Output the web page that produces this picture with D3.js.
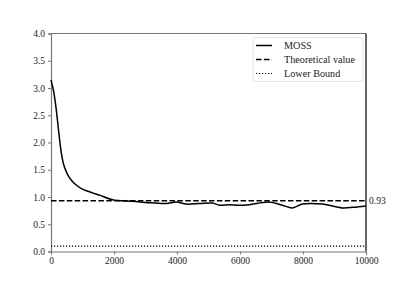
<!DOCTYPE html>
<html>
<head>
<meta charset="utf-8">
<script src="https://cdn.jsdelivr.net/npm/d3@7"></script>
<style>
  body { margin: 0; background: #fff; }
  text { font-family: "Liberation Serif", "DejaVu Serif", serif; }
</style>
</head>
<body>
<div id="chart"></div>
<script>
// MOSS curve
const steps = [0, 80, 170, 240, 325, 400, 480, 560, 660, 800, 980, 1200, 1400, 1560, 1950, 2600, 3000, 3660, 3980, 4290, 4710, 5120, 5350, 5660, 5980, 6290, 6920, 7340, 7660, 7980, 8610, 9240, 9600, 10000];
const moss  = [3.15, 2.95, 2.59, 2.22, 1.82, 1.60, 1.47, 1.38, 1.30, 1.22, 1.15, 1.10, 1.06, 1.03, 0.95, 0.92, 0.90, 0.88, 0.91, 0.87, 0.88, 0.89, 0.85, 0.86, 0.85, 0.86, 0.91, 0.85, 0.80, 0.87, 0.87, 0.80, 0.81, 0.835];
const theoretical = 0.93;
const lowerBound = 0.1;
const xTicks = [0, 2000, 4000, 6000, 8000, 10000];
const yTicks = [0, 0.5, 1, 1.5, 2, 2.5, 3, 3.5, 4];
const legendLabels = ["MOSS", "Theoretical value", "Lower Bound"];
const legendDash = [null, "5.5,2.4", "1.2,1.8"];

const W = 407, H = 282;
const m = {left: 51, right: 41, top: 33.5, bottom: 30.5};

const svg = d3.select("#chart").append("svg")
    .attr("width", W).attr("height", H);

const x = d3.scaleLinear().domain([0, 10000]).range([m.left, W - m.right]);
const y = d3.scaleLinear().domain([0, 4]).range([H - m.bottom, m.top]);

//frame
svg.append("line").attr("x1", x(0)).attr("x2", x(10000)).attr("y1", y(4)).attr("y2", y(4))
    .style("stroke", "#777").style("stroke-width", 1.2);
svg.append("line").attr("x1", x(10000)).attr("x2", x(10000)).attr("y1", y(4)).attr("y2", y(0))
    .style("stroke", "#000").style("stroke-width", 1.2);

//axes
const xAxis = svg.append("g").attr("transform", "translate(0," + y(0) + ")")
    .call(d3.axisBottom(x).tickValues(xTicks).tickFormat(d3.format("d")).tickSizeOuter(0).tickSize(3).tickPadding(3));
const yAxis = svg.append("g").attr("transform", "translate(" + x(0) + ",0)")
    .call(d3.axisLeft(y).tickValues(yTicks).tickFormat(d3.format(".1f")).tickSizeOuter(0).tickSize(3).tickPadding(3));

[xAxis, yAxis].forEach(function(a){
    a.select(".domain").style("stroke", "#777").style("stroke-width", 1.2);
    a.selectAll(".tick line").style("stroke", "#777");
    a.selectAll("text").style("font-size", "9.5px").style("fill", "#222")
        .style("font-family", "'Liberation Serif', serif");
});

//reference lines
svg.append("line").attr("x1", x(0)).attr("x2", x(10000))
    .attr("y1", y(theoretical)).attr("y2", y(theoretical))
    .style("stroke", "#000").style("stroke-width", 1.5).style("stroke-dasharray", legendDash[1]);
svg.append("line").attr("x1", x(0)).attr("x2", x(10000))
    .attr("y1", y(lowerBound)).attr("y2", y(lowerBound))
    .style("stroke", "#000").style("stroke-width", 1.2).style("stroke-dasharray", legendDash[2]);

//MOSS line
const line = d3.line().x(function(d, i){ return x(steps[i]); }).y(function(d){ return y(d); })
    .curve(d3.curveCatmullRom.alpha(0.5));
svg.append("path").datum(moss).attr("d", line)
    .style("fill", "none").style("stroke", "#000").style("stroke-width", 1.5);

svg.append("text").attr("x", x(10000) + 3).attr("y", y(theoretical) + 3.3)
    .text("0.93").style("font-size", "9.5px").style("fill", "#222");

//legend
const lg = svg.append("g");
lg.append("rect").attr("x", 253).attr("y", 37.5).attr("width", 110).attr("height", 44).attr("rx", 2)
    .style("fill", "#fff").style("stroke", "#ddd").style("stroke-width", 0.8);
legendLabels.forEach(function(lab, i){
    const ly = 45.5 + i * 14;
    lg.append("line").attr("x1", 256).attr("x2", 272).attr("y1", ly).attr("y2", ly)
        .style("stroke", "#000").style("stroke-width", i == 2 ? 1.2 : 1.5)
        .style("stroke-dasharray", legendDash[i]);
    lg.append("text").attr("x", 284).attr("y", ly + 3.5).text(lab)
        .style("font-size", "10.2px").style("fill", "#222");
});
</script>
</body>
</html>
